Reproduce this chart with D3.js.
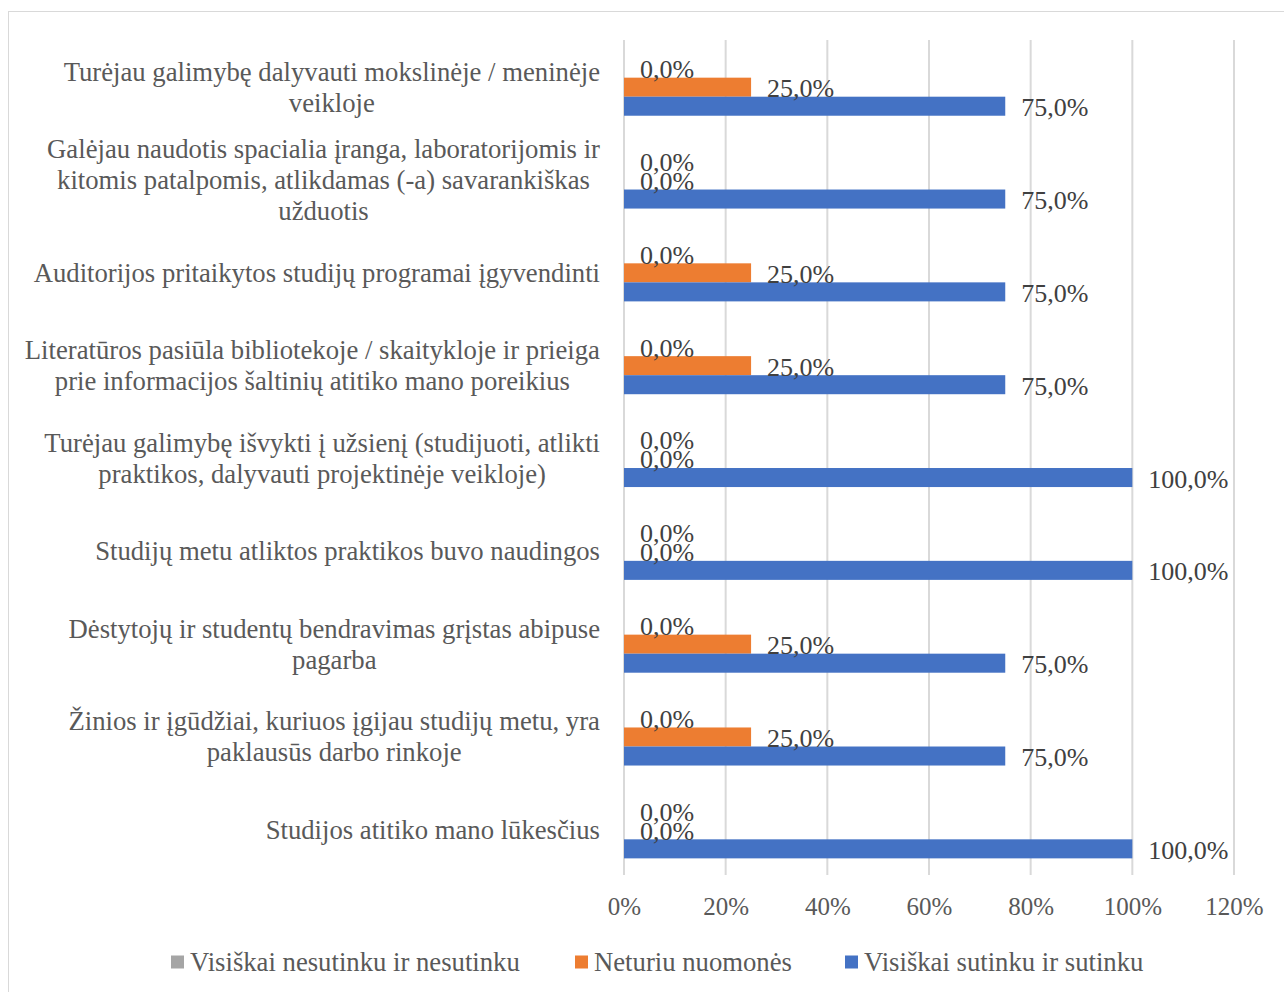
<!DOCTYPE html>
<html>
<head>
	<meta charset="utf-8">
	<title>Chart</title>
	<script src="https://d3js.org/d3.v7.min.js"></script>
	<style>
		body { margin: 0; background: #fff; }
		svg { display: block; font-family: "Liberation Serif", "Times New Roman", serif; }
	</style>
</head>
<body>
	<script>
		// DATA
		var categories = [
			"Turėjau galimybę dalyvauti mokslinėje / meninėje\nveikloje",
			"Galėjau naudotis spacialia įranga, laboratorijomis ir\nkitomis patalpomis, atlikdamas (-a) savarankiškas\nužduotis",
			"Auditorijos pritaikytos studijų programai įgyvendinti",
			"Literatūros pasiūla bibliotekoje / skaitykloje ir prieiga\nprie informacijos šaltinių atitiko mano poreikius",
			"Turėjau galimybę išvykti į užsienį (studijuoti, atlikti\npraktikos, dalyvauti projektinėje veikloje)",
			"Studijų metu atliktos praktikos buvo naudingos",
			"Dėstytojų ir studentų bendravimas grįstas abipuse\npagarba",
			"Žinios ir įgūdžiai, kuriuos įgijau studijų metu, yra\npaklausūs darbo rinkoje",
			"Studijos atitiko mano lūkesčius"
		];
		var seriesNames = ["Visiškai nesutinku ir nesutinku", "Neturiu nuomonės", "Visiškai sutinku ir sutinku"];
		var seriesColors = ["#a5a5a5", "#ed7d31", "#4472c4"];
		var disagree = [0, 0, 0, 0, 0, 0, 0, 0, 0];
		var neutral  = [25, 0, 25, 25, 0, 0, 25, 25, 0];
		var agree    = [75, 75, 75, 75, 100, 100, 75, 75, 100];
		var xTicks = [0, 20, 40, 60, 80, 100, 120];

		var allSeries = [disagree, neutral, agree];

		// SET UP SVG
		var width = 1284, height = 992;
		var svg = d3.select("body").append("svg")
			.attr("width", width)
			.attr("height", height);

		// chart border
		svg.append("rect")
			.attr("x", 8.5).attr("y", 11.5)
			.attr("width", width + 10).attr("height", height)
			.attr("fill", "none")
			.attr("stroke", "#d9d9d9")
			.attr("stroke-width", 1);

		var plotLeft = 624, plotRight = 1234, plotTop = 40, plotBottom = 875;

		var x = d3.scaleLinear().domain([0, 120]).range([plotLeft, plotRight]);
		var y = d3.scaleBand().domain(d3.range(categories.length))
			.range([plotTop + 1, plotBottom + 1]).paddingInner(0.385).paddingOuter(0.19);
		var ySeries = d3.scaleBand().domain(d3.range(seriesNames.length))
			.range([0, y.bandwidth()]);

		// gridlines
		svg.append("g").selectAll("line").data(xTicks).enter().append("line")
			.attr("x1", function(d){ return x(d); })
			.attr("x2", function(d){ return x(d); })
			.attr("y1", plotTop).attr("y2", plotBottom)
			.attr("stroke", "#d9d9d9").attr("stroke-width", 2);

		// x axis tick labels
		var xAxis = d3.axisBottom(x).tickValues(xTicks)
			.tickFormat(function(d){ return d + "%"; })
			.tickSize(0).tickPadding(22);
		var xg = svg.append("g").attr("transform", "translate(0," + plotBottom + ")").call(xAxis);
		xg.select(".domain").remove();
		xg.selectAll("text")
			.attr("font-family", "Liberation Serif, Times New Roman, serif")
			.attr("font-size", 25).attr("fill", "#595959");

		// bars + labels
		var groups = svg.append("g").selectAll("g.cat").data(categories).enter().append("g")
			.attr("class", "cat")
			.attr("transform", function(d, i){ return "translate(0," + y(i) + ")"; });

		allSeries.forEach(function(vals, s) {
			groups.append("rect")
				.attr("x", x(0))
				.attr("y", ySeries(s))
				.attr("width", function(d, i){ return x(vals[i]) - x(0); })
				.attr("height", ySeries.bandwidth())
				.attr("fill", seriesColors[s]);
		});
		allSeries.forEach(function(vals, s) {
			groups.append("text")
				.attr("x", function(d, i){ return x(vals[i]) + 16; })
				.attr("y", ySeries(s) + ySeries.bandwidth() / 2 + 10)
				.attr("font-size", 26)
				.attr("fill", "#404040")
				.text(function(d, i){ return vals[i].toFixed(1).replace(".", ",") + "%"; });
		});

		// category labels
		var lineH = 31;
		groups.each(function(d) {
			var lines = d.split("\n");
			var cy = y.bandwidth() / 2;
			var t = d3.select(this).append("text")
				.attr("text-anchor", "middle")
				.attr("font-size", 26.7)
				.attr("fill", "#595959");
			lines.forEach(function(ln, k) {
				t.append("tspan")
					.attr("x", 0)
					.attr("y", cy + (k - (lines.length - 1) / 2) * lineH + 9)
					.text(ln);
			});
			// right-align the block, centre lines inside it (like Excel)
			var w = t.node().getBBox().width;
			t.selectAll("tspan").attr("x", 600 - w / 2);
		});

		// legend
		var legendX = [171, 575, 845];
		var legend = svg.append("g").selectAll("g").data(seriesNames).enter().append("g")
			.attr("transform", function(d, i){ return "translate(" + legendX[i] + ",962)"; });
		legend.append("rect")
			.attr("x", 0).attr("y", -6.5).attr("width", 13).attr("height", 13)
			.attr("fill", function(d, i){ return seriesColors[i]; });
		legend.append("text")
			.attr("x", 19).attr("y", 9)
			.attr("font-size", 26.7).attr("fill", "#595959")
			.text(function(d){ return d; });
	</script>
</body>
</html>
